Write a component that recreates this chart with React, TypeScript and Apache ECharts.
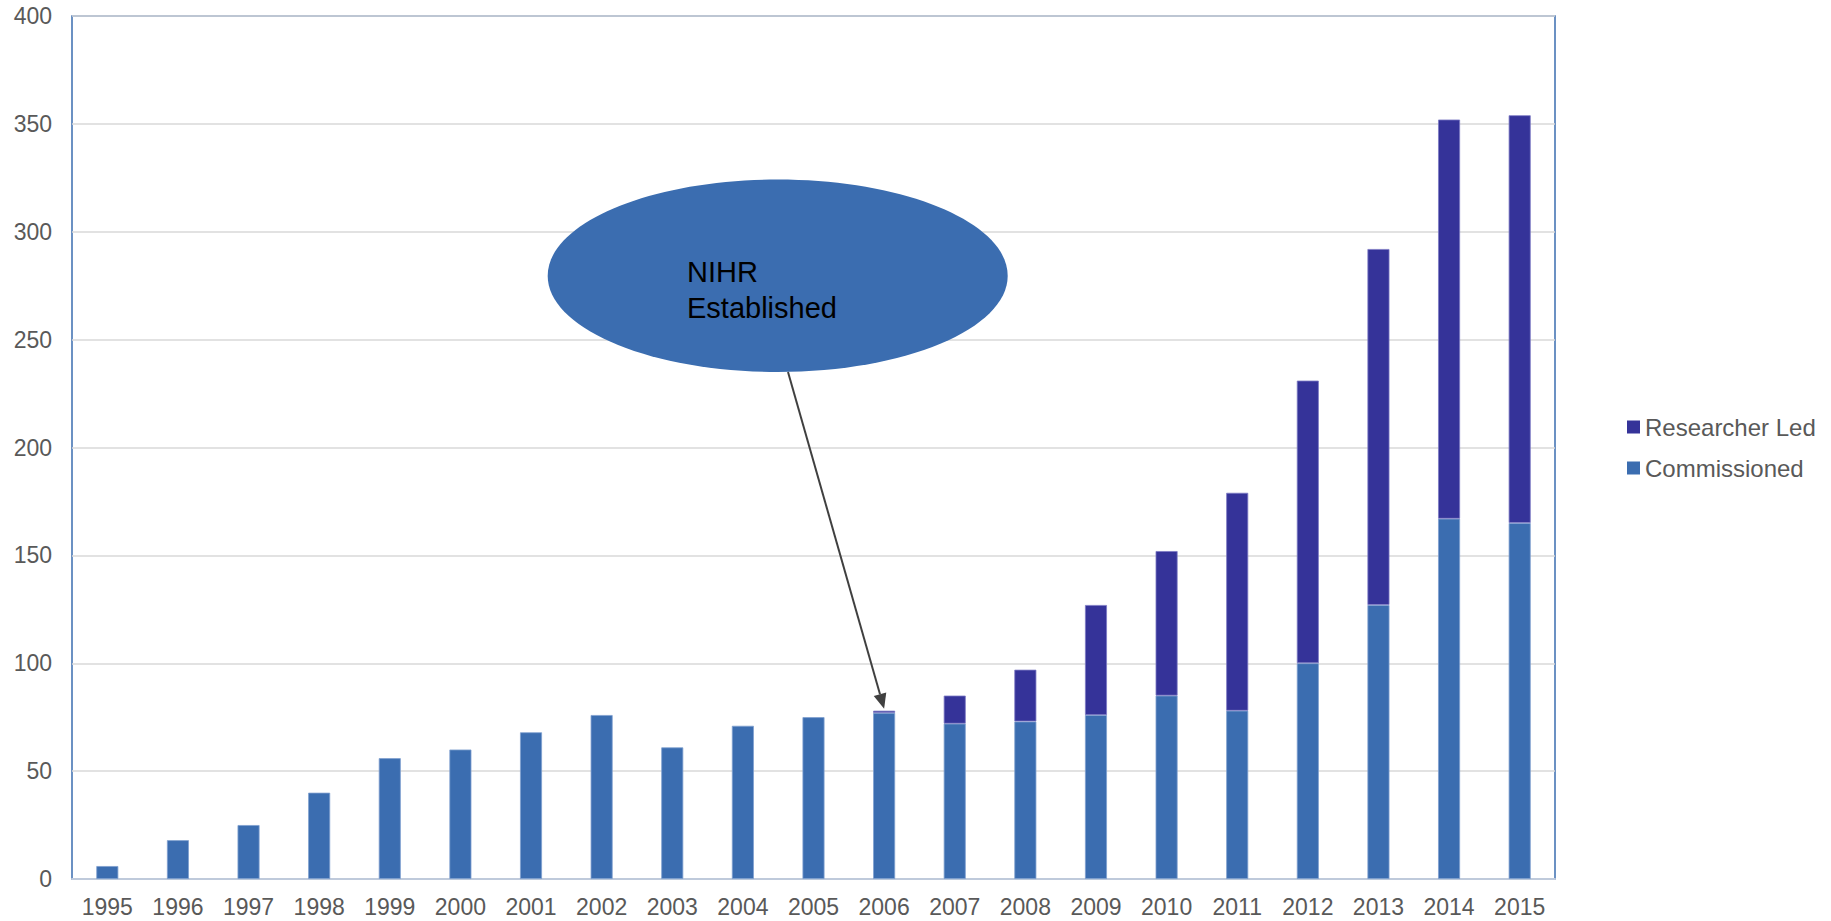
import React, { useEffect, useRef } from "react";
import * as echarts from "echarts";

const years = [
  "1995", "1996", "1997", "1998", "1999", "2000", "2001", "2002", "2003", "2004", "2005",
  "2006", "2007", "2008", "2009", "2010", "2011", "2012", "2013", "2014", "2015",
];
const commissioned = [6, 18, 25, 40, 56, 60, 68, 76, 61, 71, 75, 77, 72, 73, 76, 85, 78, 100, 127, 167, 165];
const researcherLed = [null, null, null, null, null, null, null, null, null, null, null, 1, 13, 24, 51, 67, 101, 131, 165, 185, 189];
const yTicks = { min: 0, max: 400, interval: 50 };
const seriesNames = ["Researcher Led", "Commissioned"];
const annotation = { lines: ["NIHR", "Established"], year: "2006" };

const FONT = "'Liberation Sans', Arial, Helvetica, sans-serif";
const C_COMM = "#3b6db0";
const C_RES = "#353399";

export default function App() {
  const ref = useRef<HTMLDivElement>(null);

  useEffect(() => {
    if (!ref.current) return;
    const chart = echarts.init(ref.current, null, { renderer: "svg" });
    const option: any = {
      animation: false,
      backgroundColor: "#ffffff",
      grid: {
        left: 72,
        right: 276,
        top: 16,
        bottom: 42,
        show: true,
        borderColor: C_COMM,
        borderWidth: 1.5,
        backgroundColor: "transparent",
      },
      legend: {
        orient: "vertical",
        left: 1622,
        top: 410,
        itemWidth: 13,
        itemHeight: 13,
        itemGap: 17,
        icon: "rect",
        data: seriesNames,
        itemStyle: { borderWidth: 0 },
        textStyle: { fontFamily: FONT, fontSize: 24, color: "#595959" },
      },
      xAxis: {
        type: "category",
        data: years,
        axisTick: { show: false },
        axisLine: { show: true, lineStyle: { color: "#bfcadb", width: 2 } },
        axisLabel: { interval: 0, fontFamily: FONT, fontSize: 23, color: "#595959", margin: 16 },
      },
      yAxis: {
        type: "value",
        min: yTicks.min,
        max: yTicks.max,
        interval: yTicks.interval,
        axisLine: { show: false },
        axisTick: { show: false },
        axisLabel: { fontFamily: FONT, fontSize: 23, color: "#595959", margin: 20 },
        splitLine: { lineStyle: { color: "#d9d9d9", width: 1.5 } },
      },
      series: [
        {
          name: seriesNames[1],
          type: "bar",
          stack: "total",
          barWidth: 22,
          data: commissioned,
          itemStyle: { color: C_COMM, borderColor: "#7f9fcf", borderWidth: 0.8 },
        },
        {
          name: seriesNames[0],
          type: "bar",
          stack: "total",
          barWidth: 22,
          data: researcherLed,
          itemStyle: { color: C_RES, borderColor: "#7c7ac4", borderWidth: 0.8 },
        },
      ],
    };
    chart.setOption(option);

    const idx = years.indexOf(annotation.year);
    const total = commissioned[idx] + (researcherLed[idx] || 0);
    const tip = chart.convertToPixel({ xAxisIndex: 0, yAxisIndex: 0 }, [idx, total]) as number[];
    const tx = tip[0];
    const ty = tip[1] - 2;
    const sx = 788;
    const sy = 372;
    const dx = tx - sx;
    const dy = ty - sy;
    const len = Math.sqrt(dx * dx + dy * dy);
    const ux = dx / len;
    const uy = dy / len;
    const headLen = 15;
    const headHalf = 6.5;
    const bx = tx - ux * headLen;
    const by = ty - uy * headLen;

    chart.setOption({
      graphic: [
        {
          type: "ellipse",
          shape: { cx: 777.7, cy: 275.8, rx: 230, ry: 96.2 },
          style: { fill: C_COMM },
          z: 100,
        },
        {
          type: "text",
          x: 687,
          y: 272,
          style: {
            text: annotation.lines[0],
            fontFamily: FONT,
            fontSize: 29,
            fill: "#000000",
            verticalAlign: "middle",
          },
          z: 101,
        },
        {
          type: "text",
          x: 687,
          y: 308,
          style: {
            text: annotation.lines[1],
            fontFamily: FONT,
            fontSize: 29,
            fill: "#000000",
            verticalAlign: "middle",
          },
          z: 101,
        },
        {
          type: "line",
          shape: { x1: sx, y1: sy, x2: bx, y2: by },
          style: { stroke: "#404040", lineWidth: 2 },
          z: 100,
        },
        {
          type: "polygon",
          shape: {
            points: [
              [tx, ty],
              [bx - uy * headHalf, by + ux * headHalf],
              [bx + uy * headHalf, by - ux * headHalf],
            ],
          },
          style: { fill: "#404040" },
          z: 100,
        },
      ],
    });

    return () => chart.dispose();
  }, []);

  return (
    <div
      ref={ref}
      style={{ position: "absolute", left: 0, top: 0, width: 1831, height: 921 }}
    />
  );
}
